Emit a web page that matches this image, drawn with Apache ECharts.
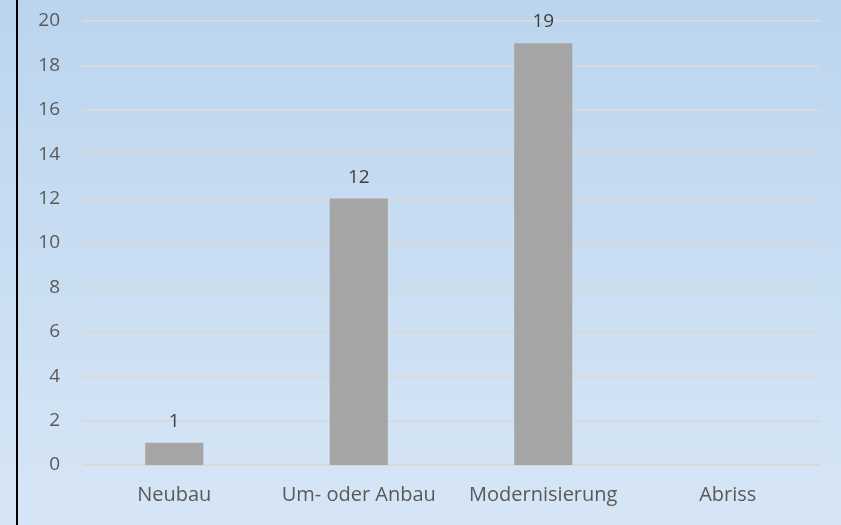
<!DOCTYPE html>
<html>
<head>
<meta charset="utf-8">
<script src="https://cdn.jsdelivr.net/npm/echarts@6/dist/echarts.min.js"></script>
<style>
  html, body { margin: 0; padding: 0; }
  #chart { width: 841px; height: 525px; }
</style>
</head>
<body>
<div id="chart"></div>
<script>
const categories = ['Neubau', 'Um- oder Anbau', 'Modernisierung', 'Abriss'];
const values = [1, 12, 19, null];
const yTicks = [0, 2, 4, 6, 8, 10, 12, 14, 16, 18, 20];

const chart = echarts.init(document.getElementById('chart'));
chart.setOption({
  backgroundColor: new echarts.graphic.LinearGradient(0, 0, 0, 1, [
    { offset: 0, color: '#bbd5ee' },
    { offset: 1, color: '#d7e6f6' }
  ]),
  textStyle: { fontFamily: 'Open Sans' },
  graphic: [{
    type: 'rect',
    shape: { x: 16, y: 0, width: 2, height: 525 },
    style: { fill: '#000' }
  }],
  grid: { left: 82, right: 21, top: 21, bottom: 60 },
  xAxis: {
    type: 'category',
    data: categories,
    axisLine: { show: false },
    axisTick: { show: false },
    axisLabel: { color: '#595959', fontSize: 20, margin: 20, interval: 0 }
  },
  yAxis: {
    type: 'value',
    min: yTicks[0],
    max: yTicks[yTicks.length - 1],
    interval: 2,
    axisLine: { show: false },
    axisTick: { show: false },
    splitLine: { lineStyle: { color: '#d9d9d9', width: 2 } },
    axisLabel: { color: '#595959', fontSize: 19, margin: 22 }
  },
  series: [{
    type: 'bar',
    data: values,
    barWidth: '31.5%',
    itemStyle: { color: '#a5a5a5' },
    label: {
      show: true,
      position: 'top',
      distance: 12,
      color: '#404040',
      fontSize: 19
    }
  }]
});
</script>
</body>
</html>
